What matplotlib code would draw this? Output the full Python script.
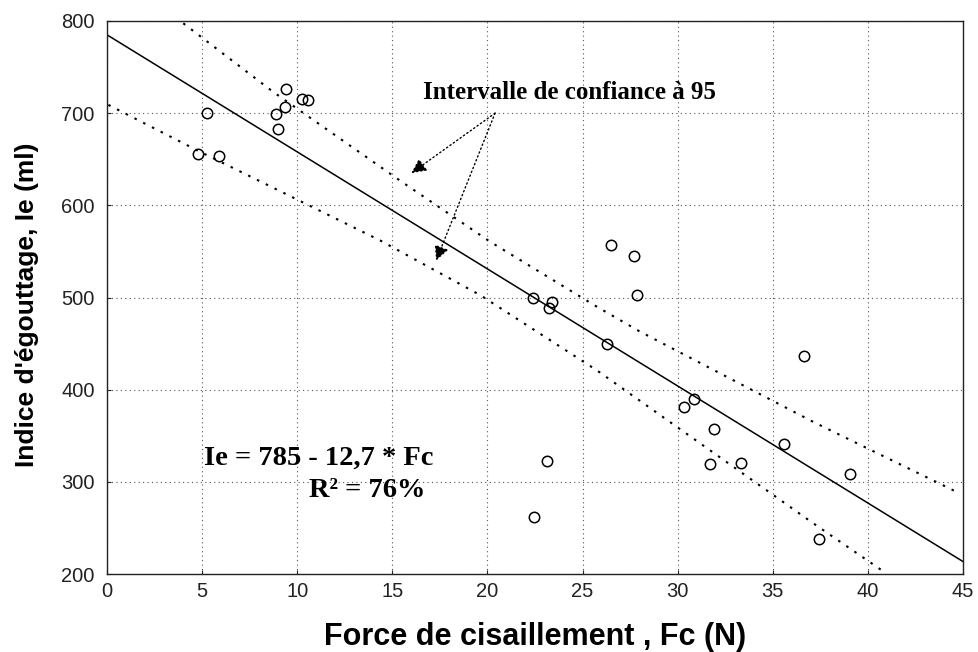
import matplotlib
matplotlib.use("Agg")
import matplotlib.pyplot as plt
import numpy as np

# Data
fc = [5.24, 4.77, 5.89, 8.89, 9.01, 9.39, 9.36, 10.27, 10.55,
      22.38, 23.38, 23.25, 26.5, 27.72, 27.87, 26.29, 30.88, 30.32,
      31.93, 35.6, 31.7, 33.35, 23.12, 36.65, 39.06, 37.43, 22.47]
ie = [700, 656, 654, 699, 683, 726, 707, 715, 714,
      500, 495, 489, 557, 545, 503, 450, 390, 381,
      357, 341, 319, 320, 323, 437, 308, 238, 262]

fit_intercept = 785
fit_slope = -12.7
fit_x = [0, 45]

ci_up_x = [4.01, 8.74, 15.49, 20.14, 25.75, 28.02, 37.13, 44.67]
ci_up_y = [797.5, 723, 625.6, 560.5, 490, 463, 365, 289]
ci_lo_x = [0.07, 4.71, 14.35, 19.61, 25.75, 37.13, 40.73]
ci_lo_y = [709, 660, 562, 502.7, 421, 255, 204]

xticks = [0, 5, 10, 15, 20, 25, 30, 35, 40, 45]
yticks = [200, 300, 400, 500, 600, 700, 800]

fig = plt.figure(figsize=(9.79, 6.52), dpi=100)
ax = fig.add_axes([0.1093, 0.1196, 0.8744, 0.8482])

ax.set_xlim(0, 45)
ax.set_ylim(200, 800)
ax.set_xticks(xticks)
ax.set_yticks(yticks)
ax.grid(True, linestyle=(0, (1, 3)), color='#555555', linewidth=0.8)
ax.set_axisbelow(True)

fx = np.array(fit_x, dtype=float)
ax.plot(fx, fit_intercept + fit_slope * fx, color='black', lw=1.1)
ax.plot(ci_up_x, ci_up_y, color='black', lw=1.5, linestyle=(0, (1.2, 3.5)))
ax.plot(ci_lo_x, ci_lo_y, color='black', lw=1.5, linestyle=(0, (1.2, 3.5)))

ax.plot(fc, ie, linestyle='none', marker='o', markersize=7.5,
        markerfacecolor='none', markeredgecolor='black', markeredgewidth=1.1)

for s in ax.spines.values():
    s.set_color('#222222')
    s.set_linewidth(1.0)
ax.tick_params(direction='in', length=3, labelsize=14.5, colors='#222222')
ax.tick_params(axis='x', pad=6)
ax.tick_params(axis='y', pad=9)
for lab in ax.get_xticklabels() + ax.get_yticklabels():
    lab.set_fontfamily('Liberation Sans')

ax.set_xlabel('Force de cisaillement , Fc (N)', fontsize=22, fontweight='bold',
              family='Liberation Sans')
ax.set_ylabel("Indice d'égouttage, Ie (ml)", fontsize=19, fontweight='bold',
              family='Liberation Sans')
ax.xaxis.set_label_coords(0.5, -0.087)
ax.yaxis.set_label_coords(-0.079, 0.487)

ax.text(24.3, 722, 'Intervalle de confiance à 95', fontsize=18,
        fontweight='bold', family='Liberation Serif', ha='center', va='center')

arrow_kw = dict(arrowstyle='-|>', linestyle=(0, (1, 2)), lw=1.0, color='black',
                mutation_scale=22, shrinkA=0, shrinkB=0)
ax.annotate('', xy=(16.0, 635), xytext=(20.4, 700), arrowprops=arrow_kw)
ax.annotate('', xy=(17.3, 540), xytext=(20.4, 700), arrowprops=arrow_kw)

ax.text(17.14, 326, 'Ie = 785 - 12,7 * Fc', fontsize=20.5, fontweight='bold',
        family='Liberation Serif', ha='right', va='center')
ax.text(16.72, 291, 'R² = 76%', fontsize=20.5, fontweight='bold',
        family='Liberation Serif', ha='right', va='center')

fig.savefig('out.png', dpi=100)
